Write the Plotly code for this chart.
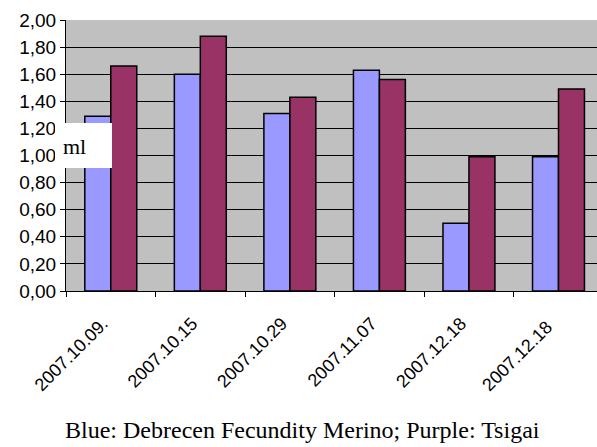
import plotly.graph_objects as go

categories = ["2007.10.09.", "2007.10.15", "2007.10.29", "2007.11.07", "2007.12.18", "2007.12.18 "]
merino = [1.29, 1.60, 1.31, 1.63, 0.50, 0.99]
tsigai = [1.66, 1.88, 1.43, 1.56, 0.99, 1.49]
y_ticks = [0, 0.2, 0.4, 0.6, 0.8, 1.0, 1.2, 1.4, 1.6, 1.8, 2.0]

fig = go.Figure()
fig.add_trace(go.Bar(x=categories, y=merino, name="Debrecen Fecundity Merino",
                     marker=dict(color="#9999FF", line=dict(color="black", width=1.5))))
fig.add_trace(go.Bar(x=categories, y=tsigai, name="Tsigai",
                     marker=dict(color="#993366", line=dict(color="black", width=1.5))))

L, T, B = 66, 20, 156
W, H = 597, 447
pw = W - L
ph = H - T - B

def px(xp):
    return (xp - L) / pw

def py(yp):
    return (H - B - yp) / ph

fig.update_layout(
    width=W, height=H,
    margin=dict(l=L, r=0, t=T, b=B),
    paper_bgcolor="white",
    plot_bgcolor="#C0C0C0",
    barmode="group",
    bargap=0.42,
    bargroupgap=0,
    showlegend=False,
    separators=",.",
    font=dict(family="Liberation Sans, Arial", color="black"),
)
fig.update_xaxes(
    type="category",
    range=[-0.5, 5.43],
    tickangle=-45,
    tickson="boundaries",
    ticks="outside", ticklen=5, tickcolor="black",
    ticklabelstandoff=14,
    ticklabelshift=-8,
    showgrid=False,
    showline=True, linecolor="black", linewidth=1,
    tickfont=dict(size=18, family="Liberation Sans, Arial"),
)
fig.update_yaxes(
    range=[0, 2.0],
    tickvals=y_ticks,
    tickformat=".2f",
    ticks="outside", ticklen=5, tickcolor="black",
    showgrid=True, gridcolor="black", gridwidth=1,
    showline=True, linecolor="black", linewidth=1,
    zeroline=False,
    tickfont=dict(size=19, family="Liberation Sans, Arial"),
)

fig.add_shape(
    type="rect", xref="paper", yref="paper",
    x0=px(55), x1=px(112), y0=py(168), y1=py(123),
    fillcolor="white", line=dict(width=0), layer="above",
)
fig.add_annotation(
    text="ml", xref="paper", yref="paper",
    x=px(61), y=py(146),
    xanchor="left", yanchor="middle", showarrow=False,
    font=dict(family="Liberation Serif, Times New Roman", size=22, color="black"),
)
fig.add_annotation(
    text="Blue: Debrecen Fecundity Merino; Purple: Tsigai",
    xref="paper", yref="paper",
    x=px(302), y=py(430),
    xanchor="center", yanchor="middle", showarrow=False,
    font=dict(family="Liberation Serif, Times New Roman", size=24, color="black"),
)

fig.write_html("out.html")
